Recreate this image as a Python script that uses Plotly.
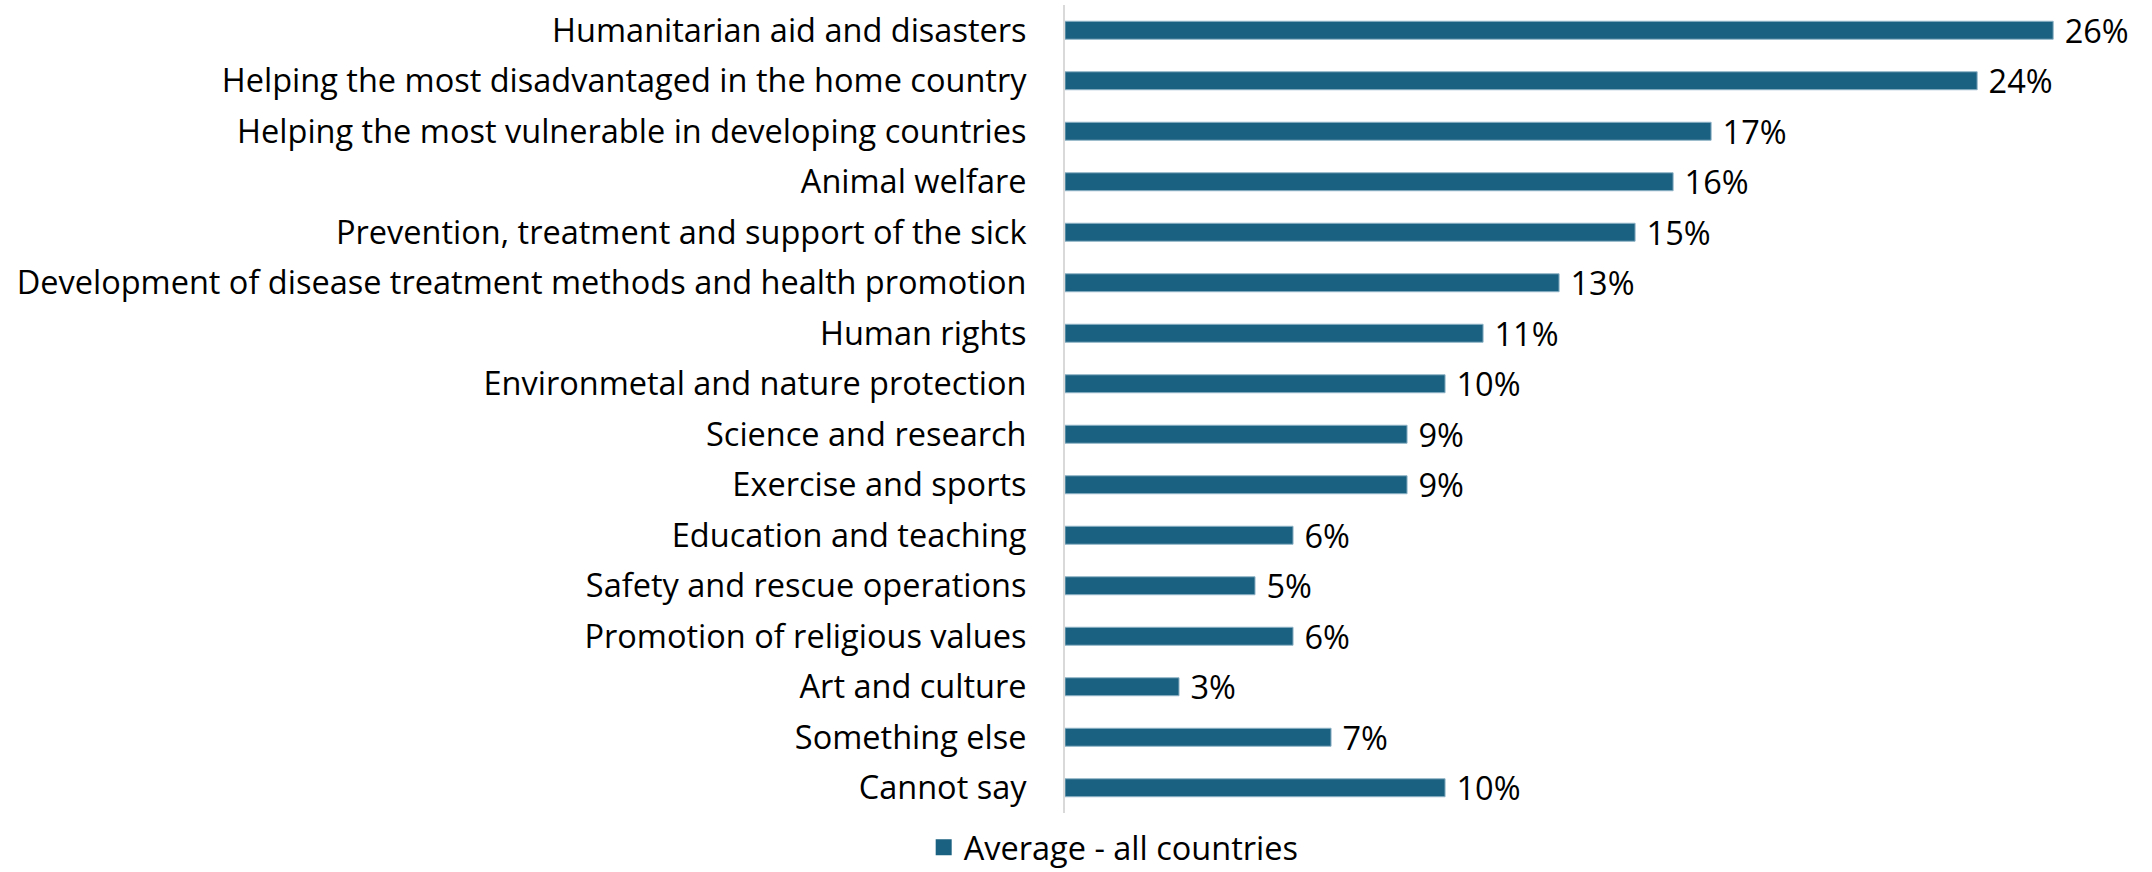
import plotly.graph_objects as go

causes = [
    "Humanitarian aid and disasters",
    "Helping the most disadvantaged in the home country",
    "Helping the most vulnerable in developing countries",
    "Animal welfare",
    "Prevention, treatment and support of the sick",
    "Development of disease treatment methods and health promotion",
    "Human rights",
    "Environmetal and nature protection",
    "Science and research",
    "Exercise and sports",
    "Education and teaching",
    "Safety and rescue operations",
    "Promotion of religious values",
    "Art and culture",
    "Something else",
    "Cannot say",
]
share_pct = [26, 24, 17, 16, 15, 13, 11, 10, 9, 9, 6, 5, 6, 3, 7, 10]
series_name = "Average - all countries"

BAR_COLOR = "#1A6080"
FONT = "Open Sans"
FS = 32.5

fig = go.Figure()
fig.add_trace(go.Bar(
    x=share_pct,
    y=causes,
    orientation="h",
    marker=dict(color=BAR_COLOR, line=dict(color="#8fb3c6", width=1)),
    texttemplate="\u00a0%{x}%",
    textposition="outside",
    constraintext="none",
    textfont=dict(family=FONT, size=FS, color="#000000"),
    cliponaxis=False,
    showlegend=False,
    name=series_name,
))
# legend entry
fig.add_trace(go.Scatter(
    x=[None], y=[None], mode="markers",
    marker=dict(symbol="square", size=20, color=BAR_COLOR),
    name=series_name, showlegend=True,
))

fig.update_layout(
    width=2152, height=872,
    margin=dict(l=1065, r=0, t=5, b=59, autoexpand=False),
    paper_bgcolor="white", plot_bgcolor="white",
    bargap=0.644,
    font=dict(family=FONT, size=FS, color="#000000"),
    xaxis=dict(range=[0, 28.6], visible=False, fixedrange=True),
    yaxis=dict(
        categoryorder="array", categoryarray=causes, autorange="reversed",
        showline=True, linecolor="#d9d9d9", linewidth=2,
        showgrid=False, ticks="", ticklabelstandoff=30,
        tickfont=dict(family=FONT, size=FS, color="#000000"),
    ),
    legend=dict(
        orientation="h", x=-0.13, xanchor="left", y=-0.043, yanchor="middle",
        font=dict(family=FONT, size=FS, color="#000000"),
        itemsizing="trace",
    ),
)

fig.write_html("out.html")
